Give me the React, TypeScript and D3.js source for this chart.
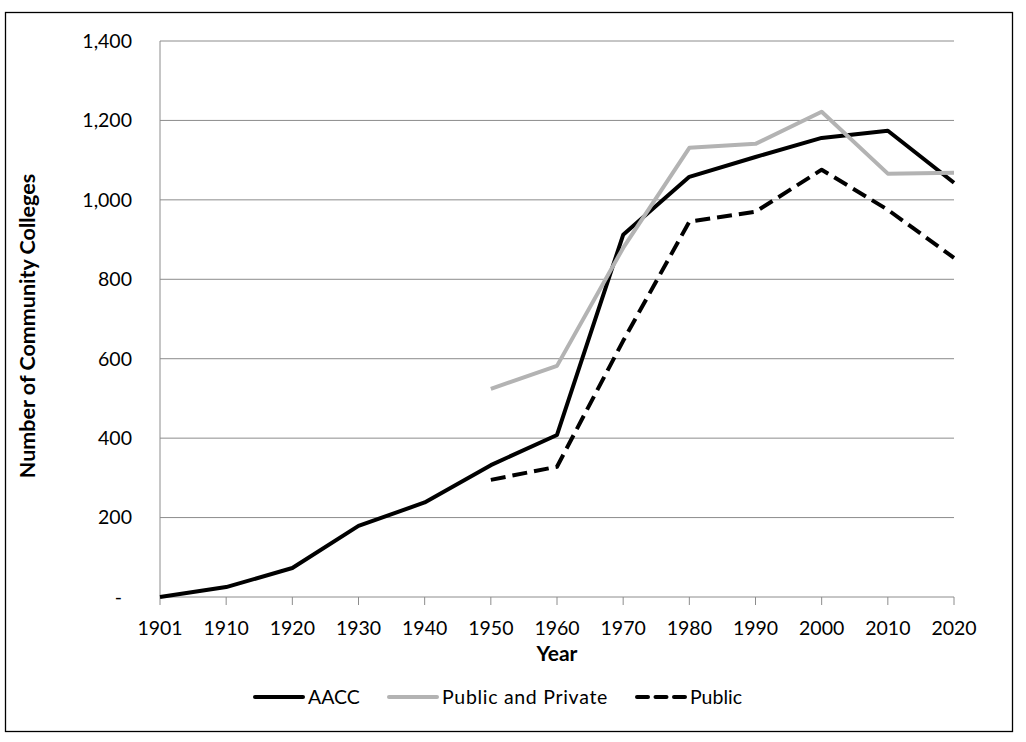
import React from "react";
import * as d3 from "d3";

const years = ["1901", "1910", "1920", "1930", "1940", "1950", "1960", "1970", "1980", "1990", "2000", "2010", "2020"];
const aacc: (number | null)[] = [0, 25, 73, 179, 238, 332, 408, 912, 1058, 1108, 1156, 1174, 1043];
const publicPrivate: (number | null)[] = [null, null, null, null, null, 524, 582, 879, 1131, 1141, 1222, 1066, 1068];
const publicOnly: (number | null)[] = [null, null, null, null, null, 295, 328, 645, 945, 970, 1076, 975, 854];
const yTicks = [0, 200, 400, 600, 800, 1000, 1200, 1400];

const W = 1026;
const H = 742;
const left = 160, right = 954, top = 41, bottom = 597;
const FONT = "Lato, 'Open Sans', sans-serif";

export default function App() {
  const x = d3.scalePoint<string>().domain(years).range([left, right]);
  const y = d3.scaleLinear().domain([0, 1400]).range([bottom, top]);
  const line = d3
    .line<number | null>()
    .defined((d) => d !== null)
    .x((_, i) => x(years[i]) as number)
    .y((d) => y(d as number));
  const fmt = (v: number) => (v === 0 ? "-" : d3.format(",")(v));

  const series = [
    { name: "AACC", data: aacc, color: "#000000", dash: "none" },
    { name: "Public and Private", data: publicPrivate, color: "#b3b3b3", dash: "none" },
    { name: "Public", data: publicOnly, color: "#000000", dash: "15,7" },
  ];
  const legendX = [253, 387, 635];

  return (
    <svg width={W} height={H} style={{ position: "absolute", left: 0, top: 0 }}>
      <rect x={0} y={0} width={W} height={H} fill="#ffffff" />
      <rect x={5.5} y={12.5} width={1007} height={719} fill="none" stroke="#000" strokeWidth={1.3} />
      {yTicks.map((t) => (
        <g key={t}>
          <line x1={left} x2={right} y1={y(t)} y2={y(t)} stroke="#8c8c8c" strokeWidth={1} />
          <text
            x={t === 0 ? 122 : 132}
            y={y(t)}
            dy="0.35em"
            textAnchor="end"
            fontFamily={FONT}
            fontSize={19.5}
            fill="#000"
          >
            {fmt(t)}
          </text>
        </g>
      ))}
      <line x1={left} x2={left} y1={top} y2={bottom} stroke="#8c8c8c" strokeWidth={1} />
      {years.map((yr) => (
        <g key={yr}>
          <line x1={x(yr)} x2={x(yr)} y1={bottom} y2={bottom + 8} stroke="#8c8c8c" strokeWidth={1} />
          <text x={x(yr)} y={635} textAnchor="middle" fontFamily={FONT} fontSize={19.5} fill="#000">
            {yr}
          </text>
        </g>
      ))}
      <text x={557} y={661} textAnchor="middle" fontFamily={FONT} fontWeight="bold" fontSize={21} fill="#000">
        Year
      </text>
      <text
        transform={`translate(35, ${(top + bottom) / 2 + 7}) rotate(-90)`}
        textAnchor="middle"
        fontFamily={FONT}
        fontWeight="bold"
        fontSize={21.5}
        fill="#000"
      >
        Number of Community Colleges
      </text>
      {series.map((s) => (
        <path
          key={s.name}
          d={line(s.data) || ""}
          fill="none"
          stroke={s.color}
          strokeWidth={4}
          strokeDasharray={s.dash}
          strokeLinejoin="round"
        />
      ))}
      {series.map((s, i) => (
        <g key={s.name}>
          <line
            x1={legendX[i] + 2}
            x2={legendX[i] + 50}
            y1={697}
            y2={697}
            stroke={s.color}
            strokeWidth={4}
            strokeDasharray={s.dash === "none" ? "none" : "11,7.5"}
            strokeLinecap="round"
          />
          <text
            x={legendX[i] + 55}
            y={704}
            fontFamily={FONT}
            fontSize={19.5}
            letterSpacing={s.name === "Public and Private" ? 0.7 : 0}
            fill="#000"
          >
            {s.name}
          </text>
        </g>
      ))}
    </svg>
  );
}
